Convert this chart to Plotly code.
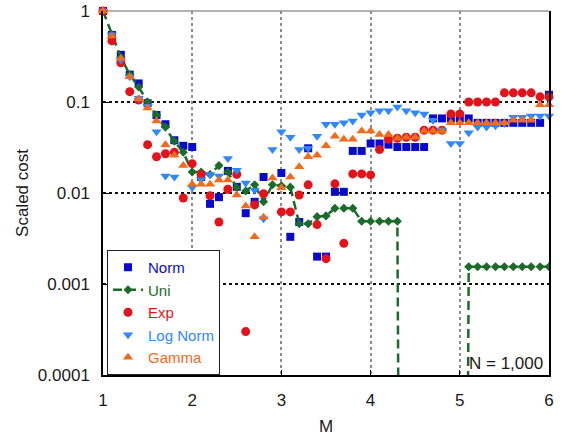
import plotly.graph_objects as go

# M values 1.0 .. 6.0 in steps of 0.1
M = [round(1.0 + 0.1 * i, 1) for i in range(51)]

norm = [1.0, 0.545, 0.33, 0.20, 0.16, 0.097, 0.072, 0.057, 0.038, 0.033,
        0.032, 0.015, 0.0076, 0.009, 0.0175, 0.0117, 0.006, 0.008, 0.015, None,
        0.0166, 0.0033, 0.0048, 0.031, 0.002, 0.002, 0.0103, 0.0103, 0.029, 0.029,
        0.035, 0.035, 0.034, 0.032, 0.032, 0.032, 0.032, 0.066, 0.066, 0.066,
        0.066, 0.066, 0.059, 0.059, 0.059, 0.059, 0.059, 0.059, 0.059, 0.059,
        0.12]

# 0 marks runs where the uniform case has no cost
uni = [1.0, 0.55, 0.31, 0.2, 0.146, 0.1, 0.072, 0.053, 0.037, 0.028,
       0.017, 0.017, 0.016, 0.020, 0.017, 0.0114, 0.0105, 0.0123, 0.008, 0.0123,
       0.012, 0.0116, 0.0046, 0.0046, 0.0055, 0.0056, 0.0068, 0.0068, 0.0068, 0.0049,
       0.0049, 0.0049, 0.0049, 0.0049, 0, 0, 0, 0, 0, 0,
       0, 0.00155, 0.00155, 0.00155, 0.00155, 0.00155, 0.00155, 0.00155, 0.00155, 0.00155,
       0.00155]

expo = [1.0, 0.47, 0.27, 0.13, 0.105, 0.034, 0.025, 0.027, 0.028, 0.0088,
        0.021, 0.016, 0.0093, 0.0048, 0.011, 0.016, 0.0003, 0.0074, 0.0098, None,
        0.0062, 0.0062, 0.0095, 0.0123, 0.0045, 0.0019, 0.0126, 0.0028, 0.0162, 0.0162,
        0.0158, 0.030, 0.039, 0.040, 0.041, 0.041, 0.049, 0.049, 0.049, 0.074,
        0.074, 0.1, 0.1, 0.1, 0.1, 0.126, 0.126, 0.126, 0.126, 0.114,
        0.114]

lognorm = [1.0, 0.55, 0.29, 0.19, 0.11, 0.09, 0.047, 0.0154, 0.015, 0.0022,
           0.0115, 0.014, 0.016, 0.0154, 0.024, 0.0178, 0.0129, 0.0107, 0.0052, 0.030,
           0.047, 0.041, 0.030, 0.031, 0.042, 0.057, 0.057, 0.059, 0.062, 0.072,
           0.076, 0.080, 0.080, 0.088, 0.080, 0.076, 0.074, 0.063, 0.049, 0.035,
           0.035, 0.046, 0.053, 0.053, 0.055, 0.058, 0.068, 0.068, 0.070, 0.070,
           0.070]

gamma = [1.0, 0.53, 0.30, 0.19, 0.108, 0.086, 0.062, 0.034, 0.026, 0.020,
         0.0125, 0.0125, 0.0125, 0.0139, 0.0139, 0.0095, 0.0072, 0.0033, 0.0054, 0.0146,
         0.0114, 0.015, 0.0194, 0.025, 0.026, 0.033, 0.042, 0.039, 0.039, 0.048,
         0.048, 0.044, 0.044, 0.040, 0.041, 0.041, 0.048, 0.048, 0.048, 0.059,
         0.059, 0.059, 0.059, 0.059, 0.059, 0.059, 0.063, 0.063, 0.063, 0.093,
         0.093]

y_ticks = [0.0001, 0.001, 0.01, 0.1, 1]
y_tick_text = ["0.0001", "0.001", "0.01", "0.1", "1"]
x_ticks = [1, 2, 3, 4, 5, 6]

C_NORM = "#0A0ACC"
C_UNI = "#1B6B2A"
C_EXP = "#E3131B"
C_LOG = "#2F88FF"
C_GAM = "#F26A1B"

FONT = "Liberation Sans, Arial, sans-serif"

# zero cost can't sit on a log axis: push it far below the visible range
uni_plot = [v if v > 0 else 1e-20 for v in uni]


def label(text, color):
    return f"<span style='color:{color}'>{text}</span>"


fig = go.Figure()
fig.add_trace(go.Scatter(
    x=M, y=norm, mode="markers", name=label("Norm", C_NORM),
    marker=dict(symbol="square", size=8, color=C_NORM), cliponaxis=False))
fig.add_trace(go.Scatter(
    x=M, y=uni_plot, mode="lines+markers", name=label("Uni", C_UNI),
    line=dict(color=C_UNI, width=2.5, dash="9px,5px"),
    marker=dict(symbol="diamond", size=7, color=C_UNI)))
fig.add_trace(go.Scatter(
    x=M, y=expo, mode="markers", name=label("Exp", C_EXP),
    marker=dict(symbol="circle", size=9, color=C_EXP), cliponaxis=False))
fig.add_trace(go.Scatter(
    x=M, y=lognorm, mode="markers", name=label("Log Norm", C_LOG),
    marker=dict(symbol="triangle-down", size=9, color=C_LOG), cliponaxis=False))
fig.add_trace(go.Scatter(
    x=M, y=gamma, mode="markers", name=label("Gamma", C_GAM),
    marker=dict(symbol="triangle-up", size=9, color=C_GAM), cliponaxis=False))

fig.update_layout(
    width=566, height=441,
    margin=dict(l=103, r=17, t=11, b=66),
    paper_bgcolor="white", plot_bgcolor="white",
    font=dict(family=FONT, size=17, color="#1a1a1a"),
    showlegend=True,
    legend=dict(
        x=0.009, y=0.0, xanchor="left", yanchor="bottom",
        bgcolor="white", bordercolor="#222", borderwidth=1,
        font=dict(family=FONT, size=15),
        itemsizing="trace", tracegroupgap=0, entrywidth=92,
    ),
    annotations=[dict(
        text="N = 1,000", x=0.99, y=0.0, xref="paper", yref="paper",
        xanchor="right", yanchor="bottom", showarrow=False,
        font=dict(family=FONT, size=17, color="#1a1a1a"))],
    shapes=[dict(type="line", xref="paper", yref="paper", x0=0, x1=1, y0=1, y1=1,
                 line=dict(color="#9a9a9a", width=1.5), layer="below")],
)

fig.update_xaxes(
    range=[1, 6], tickvals=x_ticks, ticks="inside", ticklen=5,
    tickcolor="black", showline=True, linecolor="black", linewidth=1.5,
    showgrid=True, gridcolor="#8c8c8c", griddash="dot", gridwidth=1.5,
    zeroline=False, ticklabelstandoff=9, automargin=False,
    title=dict(text="M", font=dict(family=FONT, size=17), standoff=11),
)
fig.update_yaxes(
    type="log", range=[-4, 0], tickvals=y_ticks, ticktext=y_tick_text,
    ticks="inside", ticklen=6, tickcolor="black",
    showline=True, linecolor="black", linewidth=1.5, mirror=True,
    showgrid=True, gridcolor="#111", griddash="dot", gridwidth=1.5,
    zeroline=False, ticklabelstandoff=8, automargin=False,
    title=dict(text="Scaled cost", font=dict(family=FONT, size=17), standoff=5),
)

fig.write_html("out.html")
